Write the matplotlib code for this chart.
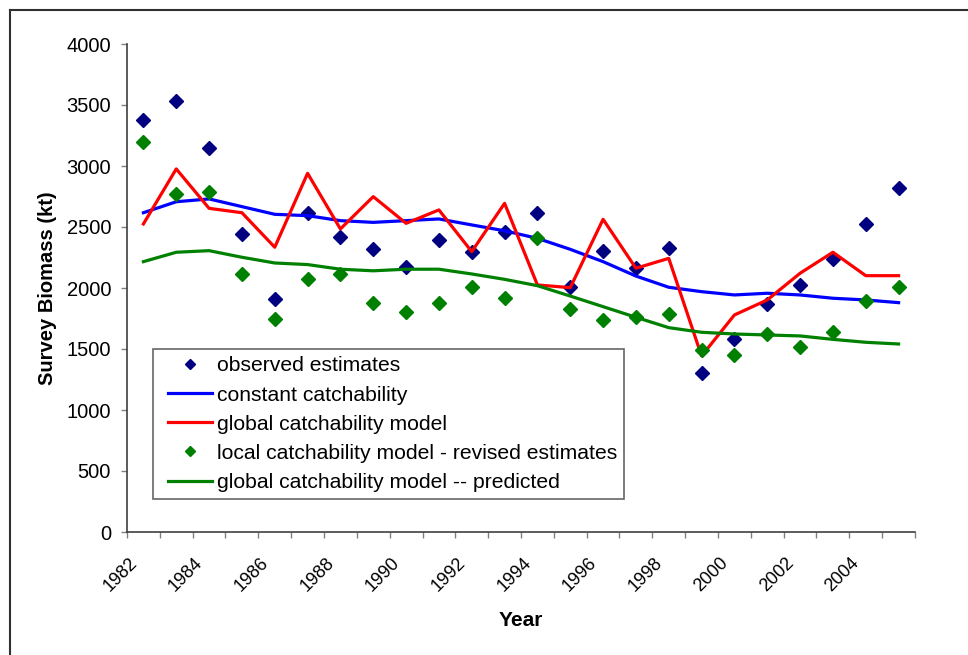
import numpy as np
import matplotlib
matplotlib.use('Agg')
import matplotlib.pyplot as plt
import matplotlib.transforms as mtransforms
from matplotlib.lines import Line2D
from matplotlib.legend_handler import HandlerLine2D

plt.rcParams['font.family'] = ['Liberation Sans', 'DejaVu Sans']

years = list(range(1982, 2006))
observed = [3380, 3535, 3148, 2445, 1910, 2617, 2420, 2320, 2173, 2395, 2295, 2462,
            2615, 2006, 2306, 2165, 2331, 1303, 1582, 1866, 2022, 2240, 2525, 2822]
constant_q = [2617, 2707, 2730, 2667, 2604, 2593, 2552, 2538, 2552, 2566, 2517, 2469,
              2407, 2317, 2216, 2098, 2006, 1970, 1943, 1957, 1943, 1916, 1902, 1880]
global_q = [2525, 2976, 2653, 2617, 2334, 2940, 2484, 2749, 2530, 2640, 2298, 2694,
            2025, 2003, 2563, 2162, 2243, 1443, 1779, 1902, 2121, 2293, 2101, 2101]
local_revised = [3200, 2770, 2784, 2113, 1746, 2075, 2113, 1880, 1802, 1880, 2006, 1916,
                 2407, 1828, 1740, 1764, 1787, 1495, 1451, 1620, 1519, 1637, 1893, 2006]
global_pred = [2216, 2293, 2306, 2252, 2205, 2192, 2154, 2141, 2154, 2154, 2115, 2071,
               2019, 1934, 1847, 1760, 1675, 1637, 1623, 1615, 1607, 1579, 1555, 1541]

x = np.arange(len(years))

fig = plt.figure(figsize=(9.68, 6.55), dpi=100)
ax = fig.add_axes([127/968, 1-532/655, (915-127)/968, (532-44)/655])

ax.plot(x, observed, 'D', color='#000080', ms=7.2, ls='none', label='observed estimates')
ax.plot(x, constant_q, '-', color='#0000FF', lw=2.3, label='constant catchability')
ax.plot(x, global_q, '-', color='#FF0000', lw=2.3, label='global catchability model')
ax.plot(x, local_revised, 'D', color='#008000', ms=7.2, ls='none',
        label='local catchability model - revised estimates')
ax.plot(x, global_pred, '-', color='#008000', lw=2.3, label='global catchability model -- predicted')

ax.set_xlim(-0.5, len(years) - 0.5)
ax.set_ylim(0, 4000)
ax.set_yticks(range(0, 4001, 500))
ax.tick_params(axis='y', direction='out', length=4.5, width=1, color='#808080',
               labelsize=14.5, pad=7)

ax.set_xticks(np.arange(-0.5, len(years)), labels=[])
ax.set_xticks(x[::2], labels=[str(y) for y in years[::2]], minor=True)
ax.tick_params(axis='x', which='major', direction='out', length=4.5, width=1, color='#808080')
ax.tick_params(axis='x', which='minor', length=0, labelsize=13, pad=21)
shift = mtransforms.ScaledTranslation(-9/100, 1/100, fig.dpi_scale_trans)
for lbl in ax.get_xticklabels(minor=True):
    lbl.set_rotation(45)
    lbl.set_ha('right')
    lbl.set_va('center')
    lbl.set_rotation_mode('anchor')
    lbl.set_transform(lbl.get_transform() + shift)

for s in ['top', 'right']:
    ax.spines[s].set_visible(False)
for s in ['left', 'bottom']:
    ax.spines[s].set_color('#404040')
    ax.spines[s].set_linewidth(1.2)

ax.set_xlabel('Year', fontsize=15, fontweight='bold', labelpad=12)
ax.set_ylabel('Survey Biomass (kt)', fontsize=14.5, fontweight='bold', labelpad=7)

leg = ax.legend(loc='upper left', bbox_to_anchor=((153-127)/788, (532-349)/488),
                fontsize=15.2, frameon=True, fancybox=False, edgecolor='#404040',
                handlelength=2.45, handletextpad=0.22, labelspacing=0.48,
                borderpad=0.35, borderaxespad=0, markerscale=0.65,
                handler_map={Line2D: HandlerLine2D(xpad=0.37)})
leg.get_frame().set_linewidth(1.2)

fig.add_artist(Line2D([10/968, 1], [1-10/655, 1-10/655], color='#303030', lw=1.5))
fig.add_artist(Line2D([10/968, 10/968], [0, 1-10/655], color='#303030', lw=1.5))

fig.savefig('out.png', dpi=100)
